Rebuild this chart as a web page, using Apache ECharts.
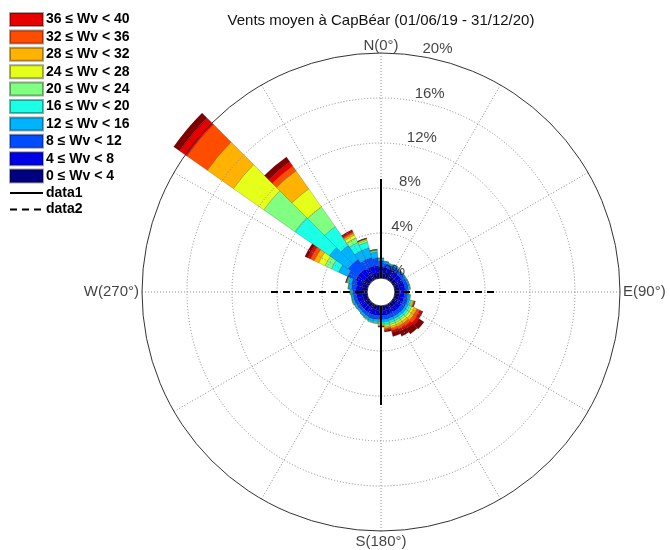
<!DOCTYPE html>
<html>
<head>
<meta charset="utf-8">
<script src="https://cdn.jsdelivr.net/npm/echarts@6/dist/echarts.min.js"></script>
<style>
  html, body { margin: 0; padding: 0; background: #fff; }
  #chart { width: 670px; height: 550px; }
</style>
</head>
<body>
<div id="chart"></div>
<script>
// Wind direction sectors (degrees, centre of each 10° sector)
const directions = [0,10,20,30,40,50,60,70,80,90,100,110,120,130,140,150,160,170,
                    180,190,200,210,220,230,240,250,260,270,280,290,300,310,320,330,340,350];

// Speed classes, innermost first
const speedBins = ['0 ≤ Wv < 4','4 ≤ Wv < 8','8 ≤ Wv < 12','12 ≤ Wv < 16','16 ≤ Wv < 20',
                   '20 ≤ Wv < 24','24 ≤ Wv < 28','28 ≤ Wv < 32','32 ≤ Wv < 36','36 ≤ Wv < 40','Wv ≥ 40'];

// Frequency (%) of each speed class per direction sector
const wv0_4   = [0.45,0.43,0.42,0.44,0.41,0.40,0.39,0.41,0.40,0.38,0.40,0.41,0.42,0.41,0.40,0.39,0.40,0.41,
                 0.40,0.42,0.41,0.40,0.39,0.40,0.41,0.42,0.44,0.45,0.46,0.47,0.62,0.55,0.53,0.52,0.52,0.49];
const wv4_8   = [0.58,0.53,0.49,0.50,0.48,0.49,0.47,0.49,0.50,0.45,0.44,0.45,0.44,0.45,0.44,0.45,0.44,0.45,
                 0.44,0.45,0.49,0.48,0.49,0.48,0.49,0.50,0.49,0.53,0.54,0.58,0.62,0.71,0.71,0.62,0.63,0.62];
const wv8_12  = [0.49,0.36,0.35,0.36,0.31,0.32,0.31,0.30,0.31,0.27,0.31,0.36,0.36,0.37,0.36,0.36,0.35,0.36,
                 0.36,0.35,0.36,0.35,0.31,0.27,0.28,0.31,0.31,0.32,0.40,0.44,0.80,1.07,1.07,0.80,0.79,0.71];
const wv12_16 = [0.22,0.14,0.10,0.09,0.10,0.08,0.09,0.10,0.11,0.09,0.13,0.18,0.22,0.23,0.22,0.21,0.22,0.22,
                 0.22,0.21,0.22,0.18,0.16,0.13,0.14,0.16,0.13,0.16,0.22,0.27,0.89,2.04,1.51,0.89,0.89,0.53];
const wv16_20 = [0.04,0.04,0.04,0.05,0.04,0.04,0.05,0.04,0.05,0.04,0.06,0.12,0.18,0.18,0.18,0.18,0.18,0.18,
                 0.13,0.09,0.09,0.06,0.04,0.04,0.04,0.04,0.04,0.04,0.05,0.09,0.71,3.73,2.04,0.80,0.53,0.13];
const wv20_24 = [0.01,0.01,0,0.01,0,0,0.01,0.01,0.02,0.01,0.04,0.09,0.18,0.18,0.18,0.18,0.18,0.13,
                 0.09,0.05,0.04,0.03,0.02,0.01,0.01,0.02,0.01,0.02,0.03,0.05,0.62,3.38,2.13,0.44,0.18,0.04];
const wv24_28 = [0,0,0,0,0,0,0,0,0,0,0.03,0.09,0.22,0.22,0.18,0.18,0.18,0.13,
                 0.09,0.04,0,0,0,0,0,0,0,0,0.01,0.04,0.62,3.29,1.96,0.27,0.09,0.03];
const wv28_32 = [0,0,0,0,0,0,0,0,0,0,0,0.09,0.27,0.27,0.22,0.22,0.18,0.13,
                 0.07,0,0,0,0,0,0,0,0,0,0,0.03,0.44,2.84,1.96,0.18,0.04,0.01];
const wv32_36 = [0,0,0,0,0,0,0,0,0,0,0,0.06,0.27,0.31,0.27,0.22,0.18,0.11,
                 0.04,0,0,0,0,0,0,0,0,0,0,0.02,0.36,2.22,0.53,0.13,0.03,0.01];
const wv36_40 = [0,0,0,0,0,0,0,0,0,0,0,0.04,0.22,0.27,0.27,0.22,0.18,0.09,
                 0.02,0,0,0,0,0,0,0,0,0,0,0.01,0.27,0.80,0.44,0.13,0.01,0];
const wv40_up = [0,0,0,0,0,0,0,0,0,0,0,0.03,0.09,0.53,0.58,0.49,0.36,0.12,
                 0.01,0,0,0,0,0,0,0,0,0,0,0.01,0.27,0.62,0.53,0.09,0.01,0];

// Radial rings (%) and compass labels
const radialTicks = [0, 4, 8, 12, 16, 20];
const compassAngles = [0, 90, 180, 270];
const compassNames = ['N(0°)', 'E(90°)', 'S(180°)', 'W(270°)'];

// Reach (%) of the N-S (data1) and E-W (data2) reference lines
const crossReach = 8.8;

// ---- styling / layout ----
const frequencies = [wv0_4, wv4_8, wv8_12, wv12_16, wv16_20, wv20_24, wv24_28, wv28_32, wv32_36, wv36_40, wv40_up];
const binColors = ['#000080','#0000e6','#004dff','#00b3ff','#1affe6','#80ff80',
                   '#e6ff1a','#ffb300','#ff4d00','#e60000','#800000'];
const FONT = "'Liberation Sans', Arial, Helvetica, sans-serif";
const CENTER = [381, 292];
const RADIUS = [14, 239];
const tickLabelBearing = 10;
const compassLabelPos = ['top', 'right', 'bottom', 'left'];

const chart = echarts.init(document.getElementById('chart'), null, { renderer: 'canvas' });

const barSeries = speedBins.map((name, i) => ({
  type: 'bar',
  name: name,
  coordinateSystem: 'polar',
  polarIndex: 0,
  stack: 'rose',
  barCategoryGap: '0%',
  clip: false,
  z: 2,
  data: frequencies[i].map(v => (v > 0 ? v : null)),
  itemStyle: { color: binColors[i], borderColor: 'rgba(0,0,0,0.35)', borderWidth: 0.5 },
  emphasis: { disabled: true }
}));

// legend: highest class on top, excluding the open-ended class
const legendBins = speedBins.slice(0, 10).reverse().map(n => ({ name: n, icon: 'rect' }));
const legendLines = ['data1', 'data2'].map(n => ({ name: n, itemStyle: { opacity: 0 } }));

const option = {
  animation: false,
  backgroundColor: '#fff',
  textStyle: { fontFamily: FONT },
  title: {
    text: 'Vents moyen à CapBéar (01/06/19 - 31/12/20)',
    left: CENTER[0],
    top: 13,
    textAlign: 'center',
    padding: 0,
    textStyle: { fontSize: 15, fontWeight: 'normal', color: '#111', fontFamily: FONT }
  },
  legend: {
    orient: 'vertical',
    left: 9,
    top: 12,
    padding: 0,
    itemWidth: 33,
    itemHeight: 13,
    itemGap: 2.4,
    selectedMode: false,
    data: legendBins.concat(legendLines),
    textStyle: { fontSize: 14, fontWeight: 'bold', color: '#000', fontFamily: FONT, padding: [0, 0, 0, -2] }
  },
  polar: [
    { center: CENTER, radius: RADIUS },
    { center: CENTER, radius: RADIUS }
  ],
  angleAxis: [
    {
      polarIndex: 0, type: 'category', data: directions,
      startAngle: 95, clockwise: true, show: false
    },
    {
      polarIndex: 1, type: 'value', min: 0, max: 360, interval: 30,
      startAngle: 90, clockwise: true, z: 3,
      axisLine: { show: true, lineStyle: { color: '#333', width: 1 } },
      axisTick: { show: false },
      axisLabel: { show: false },
      splitLine: { show: true, lineStyle: { color: '#8a8a8a', width: 1, type: [1, 2] } }
    }
  ],
  radiusAxis: [
    { polarIndex: 0, type: 'value', min: 0, max: 20, show: false },
    {
      polarIndex: 1, type: 'value', min: 0, max: 20, interval: 4, z: 3,
      axisLine: { show: false }, axisTick: { show: false }, axisLabel: { show: false },
      splitLine: {
        show: true,
        lineStyle: {
          color: radialTicks.map((t, i) => (i === 0 || i === radialTicks.length - 1) ? 'rgba(0,0,0,0)' : '#8a8a8a'),
          width: 1, type: [1, 2]
        }
      }
    }
  ],
  series: barSeries.concat([
    {
      type: 'line', name: 'data1', coordinateSystem: 'polar', polarIndex: 1,
      data: [[crossReach, 0], [crossReach, 180]],
      symbol: 'none', z: 6, silent: true,
      itemStyle: { color: '#000' },
      lineStyle: { color: '#000', width: 2 }
    },
    {
      type: 'line', name: 'data2', coordinateSystem: 'polar', polarIndex: 1,
      data: [[crossReach, 90], [crossReach, 270]],
      symbol: 'none', z: 6, silent: true,
      itemStyle: { color: '#000' },
      lineStyle: { color: '#000', width: 2, type: [7, 5] }
    },
    {
      type: 'scatter', name: 'ringLabels', coordinateSystem: 'polar', polarIndex: 1,
      data: radialTicks.map(t => [t, tickLabelBearing]),
      symbolSize: 0, z: 7, silent: true,
      label: {
        show: true, position: 'inside', align: 'left', verticalAlign: 'bottom',
        fontSize: 15, color: '#111', fontFamily: FONT,
        formatter: p => p.value[0] + '%'
      }
    },
    {
      type: 'scatter', name: 'compass', coordinateSystem: 'polar', polarIndex: 1,
      symbolSize: 0, z: 7, silent: true,
      data: compassAngles.map((a, i) => ({
        value: [radialTicks[radialTicks.length - 1], a],
        label: { position: compassLabelPos[i], distance: i === 0 ? 0 : 3 }
      })),
      label: {
        show: true, fontSize: 15, color: '#111', fontFamily: FONT,
        formatter: p => compassNames[p.dataIndex]
      }
    }
  ])
};

chart.setOption(option);
</script>
</body>
</html>
